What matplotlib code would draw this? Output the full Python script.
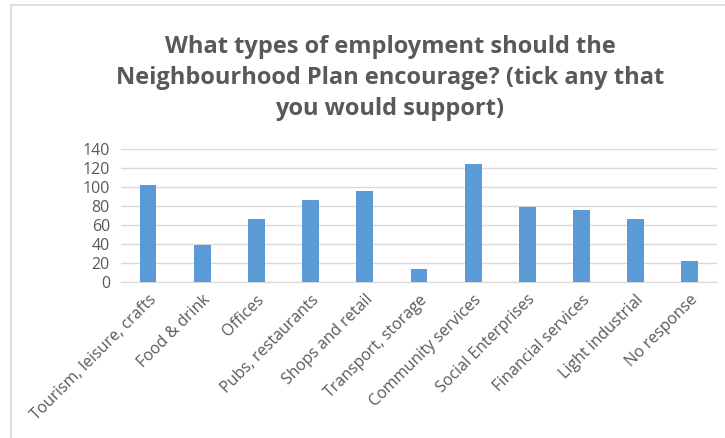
import matplotlib.pyplot as plt
from matplotlib.patches import Rectangle

categories = ['Tourism, leisure, crafts', 'Food & drink', 'Offices', 'Pubs, restaurants',
              'Shops and retail', 'Transport, storage', 'Community services',
              'Social Enterprises', 'Financial services', 'Light industrial', 'No response']
counts = [102, 39, 66, 86, 96, 14, 124, 79, 76, 66, 22]
y_ticks = [0, 20, 40, 60, 80, 100, 120, 140]

title = ('What types of employment should the\n'
         'Neighbourhood Plan encourage? (tick any that\n'
         'you would support)')

plt.rcParams['font.family'] = ['Open Sans', 'DejaVu Sans']
text_grey = '#595959'
grid_grey = '#D9D9D9'

fig = plt.figure(figsize=(7.25, 4.38), dpi=100)
ax = fig.add_axes([0.1669, 0.356, 0.822, 0.304])

x = range(len(categories))
ax.bar(x, counts, width=0.31, color='#5B9BD5', zorder=3)

ax.set_xlim(-0.5, len(categories) - 0.5)
ax.set_ylim(0, 140)
ax.set_yticks(y_ticks)
ax.set_xticks(list(x))
ax.set_xticklabels(categories, rotation=45, ha='right', rotation_mode='anchor')
ax.tick_params(axis='both', length=0, colors=text_grey, labelsize=11.5)
ax.tick_params(axis='x', pad=7)
ax.tick_params(axis='y', pad=8)
ax.yaxis.grid(True, color=grid_grey, linewidth=1, zorder=0)
for side in ['top', 'right', 'left']:
    ax.spines[side].set_visible(False)
ax.spines['bottom'].set_color(grid_grey)

fig.text(0.538, 0.92, title, ha='center', va='top', fontsize=17, fontweight='bold',
         color=text_grey, linespacing=1.4)

# chart frame, cut off at right and bottom
fig.patches.append(Rectangle((11 / 725, -0.1), 1.2, 1.1 - 5 / 438, transform=fig.transFigure,
                             fill=False, edgecolor=grid_grey, linewidth=1.2))

fig.savefig('out.png', dpi=100)
